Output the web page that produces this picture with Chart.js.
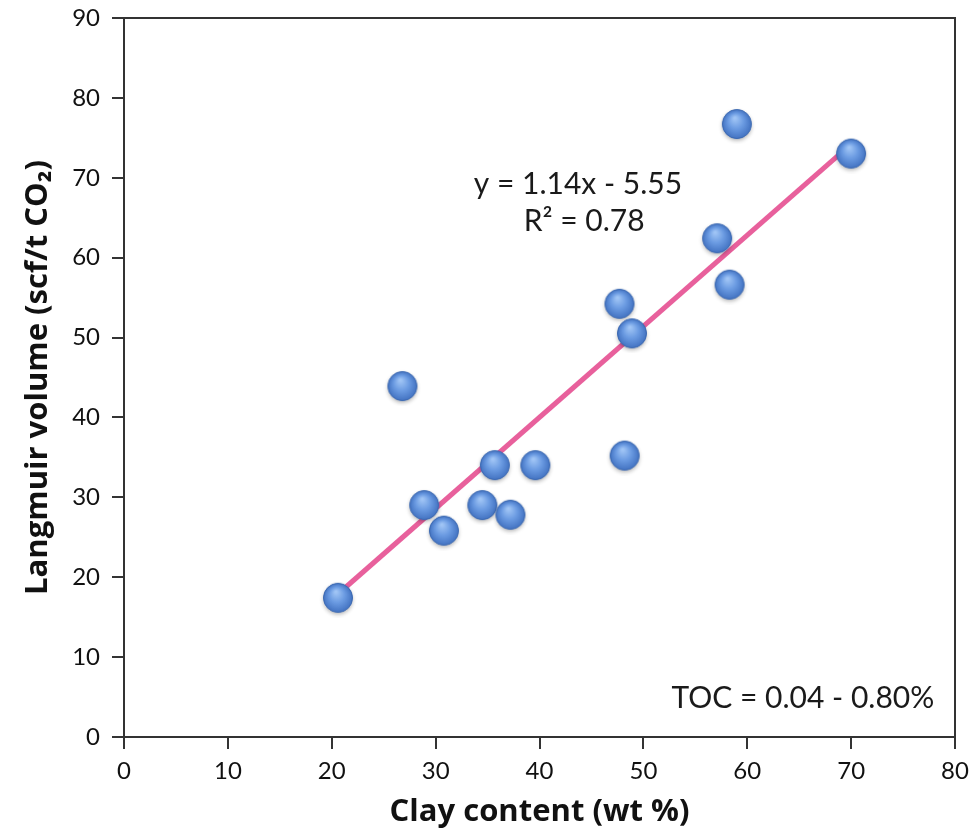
<!DOCTYPE html>
<html>
<head>
<meta charset="utf-8">
<script src="https://cdn.jsdelivr.net/npm/chart.js@4.4.1/dist/chart.umd.min.js"></script>
<style>
  html, body { margin: 0; padding: 0; background: #ffffff; }
  #wrap { width: 973px; height: 831px; }
</style>
</head>
<body>
<div id="wrap"><canvas id="clayChart" width="973" height="831"></canvas></div>
<script>
// clay content (wt %) vs Langmuir volume (scf/t CO2)
const clayContent = [20.6, 26.8, 28.9, 30.8, 34.5, 35.7, 37.2, 39.6, 47.7, 48.2, 48.9, 57.1, 58.3, 59.0, 70.0];
const langmuirVolume = [17.3, 43.8, 28.9, 25.7, 28.9, 33.9, 27.7, 33.9, 54.1, 35.1, 50.4, 62.3, 56.5, 76.6, 72.9];

// trend line end points
const trendX = [20.6, 70.0];
const trendY = [17.9, 74.2];

const xTicks = [0, 10, 20, 30, 40, 50, 60, 70, 80];
const yTicks = [0, 10, 20, 30, 40, 50, 60, 70, 80, 90];

const equationText = 'y = 1.14x - 5.55';
const r2Text = 'R\u00B2 = 0.78';
const tocText = 'TOC = 0.04 - 0.80%';

const FONT = 'Lato, "Open Sans", sans-serif';
const TITLE_FONT = '"Open Sans", Lato, sans-serif';

// blue sphere marker
function makeBall() {
    const c = document.createElement('canvas');
    c.width = 38; c.height = 38;
    const g = c.getContext('2d');
    const cx = 19, cy = 18, r = 14.5;
    g.save();
    g.shadowColor = 'rgba(0,0,0,0.3)';
    g.shadowBlur = 4;
    g.shadowOffsetY = 2;
    g.beginPath();
    g.arc(cx, cy, r, 0, Math.PI * 2);
    g.fillStyle = '#4f82d0';
    g.fill();
    g.restore();
    const grad = g.createRadialGradient(cx - 2, cy - 6, 1, cx, cy, r);
    grad.addColorStop(0, '#9fc4f5');
    grad.addColorStop(0.5, '#6b9be2');
    grad.addColorStop(1, '#4373c2');
    g.beginPath();
    g.arc(cx, cy, r, 0, Math.PI * 2);
    g.fillStyle = grad;
    g.fill();
    g.lineWidth = 1;
    g.strokeStyle = '#3d69b0';
    g.stroke();
    return c;
}
const ball = makeBall();

const scatterData = clayContent.map((x, i) => ({ x: x, y: langmuirVolume[i] }));
const trendData = trendX.map((x, i) => ({ x: x, y: trendY[i] }));

const whiteBg = {
    id: 'whiteBg',
    beforeDraw(chart) {
        const ctx = chart.ctx;
        ctx.save();
        ctx.fillStyle = '#ffffff';
        ctx.fillRect(0, 0, chart.width, chart.height);
        ctx.restore();
    }
};

const frameAndNotes = {
    id: 'frameAndNotes',
    afterDatasetsDraw(chart) {
        const { ctx, chartArea, scales } = chart;
        ctx.save();
        ctx.strokeStyle = '#333333';
        ctx.lineWidth = 2;
        ctx.strokeRect(chartArea.left, chartArea.top, chartArea.right - chartArea.left, chartArea.bottom - chartArea.top);

        ctx.fillStyle = '#1a1a1a';
        ctx.textBaseline = 'middle';
        ctx.font = '30px ' + FONT;
        ctx.textAlign = 'center';
        ctx.fillText(equationText, scales.x.getPixelForValue(43.7), scales.y.getPixelForValue(69.2));
        ctx.fillText(r2Text, scales.x.getPixelForValue(44.3), scales.y.getPixelForValue(64.5));
        ctx.textAlign = 'right';
        ctx.fillText(tocText, scales.x.getPixelForValue(78.0), scales.y.getPixelForValue(4.8));
        ctx.restore();
    }
};

const ctx = document.getElementById('clayChart').getContext('2d');
const clayChart = new Chart(ctx, {
    type: 'scatter',
    data: {
        datasets: [
            {
                type: 'line',
                label: 'trend',
                data: trendData,
                borderColor: '#e8609c',
                borderWidth: 5,
                pointRadius: 0,
                fill: false,
                order: 2
            },
            {
                label: 'samples',
                data: scatterData,
                pointStyle: ball,
                pointRadius: 15,
                order: 1
            }
        ]
    },
    options: {
        responsive: false,
        animation: false,
        events: [],
        layout: { padding: { left: 0, right: 18, top: 18, bottom: 0 } },
        plugins: {
            legend: { display: false },
            tooltip: { enabled: false }
        },
        scales: {
            x: {
                type: 'linear',
                min: 0,
                max: 80,
                afterBuildTicks(scale) { scale.ticks = xTicks.map(v => ({ value: v })); },
                afterFit(scale) {
                    scale.height = 94;
                    scale.paddingLeft = 0;
                    scale.paddingRight = 0;
                },
                border: { display: true, color: '#333333', width: 2 },
                grid: { drawOnChartArea: false, drawTicks: true, tickLength: 12, tickColor: '#333333', lineWidth: 2 },
                ticks: { padding: 8, color: '#111111', font: { family: FONT, size: 24 } },
                title: {
                    display: true,
                    text: 'Clay content (wt %)',
                    color: '#111111',
                    font: { family: TITLE_FONT, size: 31, weight: 'bold' },
                    padding: { top: 0, bottom: 0 }
                }
            },
            y: {
                type: 'linear',
                min: 0,
                max: 90,
                afterBuildTicks(scale) { scale.ticks = yTicks.map(v => ({ value: v })); },
                afterFit(scale) {
                    scale.width = 124;
                    scale.paddingTop = 0;
                    scale.paddingBottom = 0;
                },
                border: { display: true, color: '#333333', width: 2 },
                grid: { drawOnChartArea: false, drawTicks: true, tickLength: 12, tickColor: '#333333', lineWidth: 2 },
                ticks: { padding: 12, color: '#111111', font: { family: FONT, size: 24 } },
                title: {
                    display: true,
                    text: 'Langmuir volume (scf/t CO\u2082)',
                    color: '#111111',
                    font: { family: TITLE_FONT, size: 31, weight: 'bold' },
                    padding: { top: 20, bottom: 0 }
                }
            }
        }
    },
    plugins: [whiteBg, frameAndNotes]
});
</script>
</body>
</html>
